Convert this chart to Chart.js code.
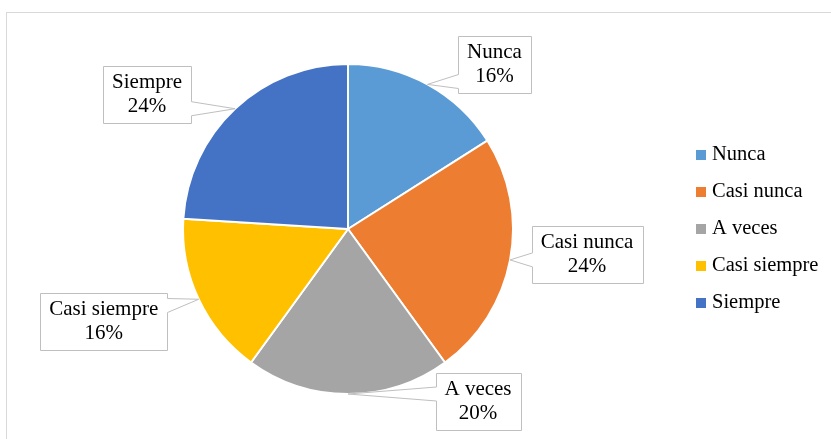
<!DOCTYPE html>
<html>
<head>
<meta charset="utf-8">
<script src="https://cdn.jsdelivr.net/npm/chart.js@4.4.1/dist/chart.umd.min.js"></script>
<style>
    html, body { margin: 0; padding: 0; background: #fff; }
</style>
</head>
<body>
<canvas id="pieChart" width="831" height="439"></canvas>
<script>
// Categorías y porcentajes del gráfico
const categorias = ['Nunca', 'Casi nunca', 'A veces', 'Casi siempre', 'Siempre'];
const porcentajes = [16, 24, 20, 16, 24];
const colores = ['#5B9BD5', '#ED7D31', '#A5A5A5', '#FFC000', '#4472C4'];

// Desplazamiento (x, y) de cada cuadro de etiqueta respecto al borde de su porción
const desplazEtiquetas = [[67, -20], [77, -5], [130, 7], [-95, 22], [-88, -14]];

const FUENTE = '"Liberation Serif", "Times New Roman", serif';

// Fondo blanco y marco gris del gráfico
const marco = {
    id: 'marco',
    beforeDraw(chart) {
        const ctx = chart.ctx;
        ctx.save();
        ctx.fillStyle = '#fff';
        ctx.fillRect(0, 0, chart.width, chart.height);
        ctx.strokeStyle = '#D9D9D9';
        ctx.lineWidth = 1;
        ctx.strokeRect(6.5, 12.5, chart.width + 20, chart.height + 20);
        ctx.restore();
    }
};

// Cuadros de texto con flecha hacia cada porción
const etiquetas = {
    id: 'etiquetas',
    afterDatasetsDraw(chart) {
        const ctx = chart.ctx;
        const meta = chart.getDatasetMeta(0);
        ctx.save();
        ctx.font = '21px ' + FUENTE;
        ctx.textAlign = 'center';
        ctx.textBaseline = 'middle';
        meta.data.forEach((arc, i) => {
            const p = arc.getProps(['x', 'y', 'startAngle', 'endAngle', 'outerRadius'], true);
            const medio = (p.startAngle + p.endAngle) / 2;
            const punta = {
                x: p.x + Math.cos(medio) * p.outerRadius,
                y: p.y + Math.sin(medio) * p.outerRadius
            };
            const lineas = [categorias[i], porcentajes[i] + '%'];
            const anchoTexto = Math.max(...lineas.map(t => ctx.measureText(t).width));
            const w = Math.round(anchoTexto + 18);
            const h = 57;
            const cx = punta.x + desplazEtiquetas[i][0];
            const cy = punta.y + desplazEtiquetas[i][1];
            const L = Math.round(cx - w / 2) + 0.5, R = L + w;
            const T = Math.round(cy - h / 2) + 0.5, B = T + h;
            const base = 7;

            ctx.beginPath();
            if (punta.x < L) {
                const c = Math.min(Math.max(punta.y, T + 12), B - 12);
                ctx.moveTo(L, T); ctx.lineTo(R, T); ctx.lineTo(R, B); ctx.lineTo(L, B);
                ctx.lineTo(L, c + base); ctx.lineTo(punta.x, punta.y); ctx.lineTo(L, c - base);
            } else if (punta.x > R) {
                const c = Math.min(Math.max(punta.y, T + 12), B - 12);
                ctx.moveTo(L, T); ctx.lineTo(R, T);
                ctx.lineTo(R, c - base); ctx.lineTo(punta.x, punta.y); ctx.lineTo(R, c + base);
                ctx.lineTo(R, B); ctx.lineTo(L, B);
            } else if (punta.y < T) {
                const c = Math.min(Math.max(punta.x, L + 12), R - 12);
                ctx.moveTo(L, T); ctx.lineTo(c - base, T); ctx.lineTo(punta.x, punta.y);
                ctx.lineTo(c + base, T); ctx.lineTo(R, T); ctx.lineTo(R, B); ctx.lineTo(L, B);
            } else {
                const c = Math.min(Math.max(punta.x, L + 12), R - 12);
                ctx.moveTo(L, T); ctx.lineTo(R, T); ctx.lineTo(R, B);
                ctx.lineTo(c + base, B); ctx.lineTo(punta.x, punta.y); ctx.lineTo(c - base, B);
                ctx.lineTo(L, B);
            }
            ctx.closePath();
            ctx.fillStyle = '#fff';
            ctx.fill();
            ctx.strokeStyle = '#BFBFBF';
            ctx.lineWidth = 1;
            ctx.stroke();

            ctx.fillStyle = '#000';
            ctx.fillText(lineas[0], cx, cy - 12);
            ctx.fillText(lineas[1], cx, cy + 12);
        });
        ctx.restore();
    }
};

// Leyenda a la derecha
const leyenda = {
    id: 'leyenda',
    afterDraw(chart) {
        const ctx = chart.ctx;
        ctx.save();
        ctx.font = '20.5px ' + FUENTE;
        ctx.textAlign = 'left';
        ctx.textBaseline = 'middle';
        const centroY = chart.getDatasetMeta(0).data[0].y;
        categorias.forEach((cat, i) => {
            const y = centroY + (i - (categorias.length - 1) / 2) * 37;
            ctx.fillStyle = colores[i];
            ctx.fillRect(696, Math.round(y - 5), 10, 10);
            ctx.fillStyle = '#000';
            ctx.fillText(cat, 712, y);
        });
        ctx.restore();
    }
};

new Chart(document.getElementById('pieChart'), {
    type: 'pie',
    data: {
        labels: categorias,
        datasets: [{
            data: porcentajes,
            backgroundColor: colores,
            borderColor: '#fff',
            borderWidth: 2
        }]
    },
    options: {
        responsive: false,
        animation: false,
        layout: {
            padding: { top: 63, bottom: 44, left: 182, right: 317 }
        },
        plugins: {
            legend: { display: false },
            tooltip: { enabled: false }
        }
    },
    plugins: [marco, etiquetas, leyenda]
});
</script>
</body>
</html>
